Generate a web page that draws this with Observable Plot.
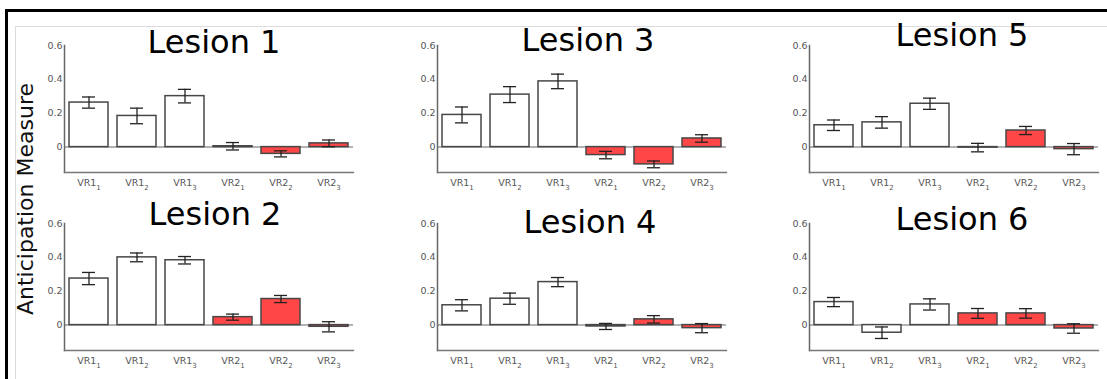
<!DOCTYPE html>
<html><head><meta charset="utf-8">
<script src="https://cdn.jsdelivr.net/npm/d3@7"></script>
<script src="https://cdn.jsdelivr.net/npm/@observablehq/plot@0.6"></script>
<style>
html,body{margin:0;padding:0;background:#fff;}
#root{position:relative;width:1107px;height:379px;overflow:hidden;font-family:"DejaVu Sans",sans-serif;}
#root > svg{position:absolute;}
</style></head><body><div id="root"></div>
<script>
// ---- data ----
const lesionTitles = ["Lesion 1", "Lesion 3", "Lesion 5", "Lesion 2", "Lesion 4", "Lesion 6"];
const conditions = ["VR1_1", "VR1_2", "VR1_3", "VR2_1", "VR2_2", "VR2_3"];
const groups = ["VR1", "VR1", "VR1", "VR2", "VR2", "VR2"];
const yTicks = [0, 0.2, 0.4, 0.6];
const yLabel = "Anticipation Measure";

const lesion1Mean = [0.263, 0.184, 0.301, 0.005, -0.040, 0.022];
const lesion1Err  = [0.033, 0.046, 0.040, 0.022, 0.018, 0.020];
const lesion3Mean = [0.190, 0.310, 0.388, -0.047, -0.102, 0.051];
const lesion3Err  = [0.047, 0.047, 0.043, 0.022, 0.020, 0.022];
const lesion5Mean = [0.129, 0.146, 0.256, -0.003, 0.098, -0.012];
const lesion5Err  = [0.031, 0.034, 0.033, 0.025, 0.024, 0.033];
const lesion2Mean = [0.275, 0.400, 0.383, 0.047, 0.154, -0.010];
const lesion2Err  = [0.036, 0.026, 0.022, 0.018, 0.021, 0.030];
const lesion4Mean = [0.117, 0.156, 0.254, -0.008, 0.034, -0.018];
const lesion4Err  = [0.033, 0.033, 0.027, 0.018, 0.022, 0.027];
const lesion6Mean = [0.136, -0.045, 0.122, 0.069, 0.069, -0.020];
const lesion6Err  = [0.027, 0.034, 0.033, 0.029, 0.028, 0.028];

const panelMeans = [lesion1Mean, lesion3Mean, lesion5Mean, lesion2Mean, lesion4Mean, lesion6Mean];
const panelErrs  = [lesion1Err, lesion3Err, lesion5Err, lesion2Err, lesion4Err, lesion6Err];

// ---- layout (positions/styles) ----
const layout = {
  lefts: [0, 373, 745, 0, 373, 745],
  tops: [0, 0, 0, 178, 178, 178],
  titleDx: [5, 6, 8, 6, 8, 8],
  titleDy: [7, 5, 0, 1, 9, 6]
};

const root = document.getElementById("root");

// frame decorations and y label
const over = d3.select(root).append("svg")
  .attr("width", 1107).attr("height", 379)
  .style("left", "0px").style("top", "0px");
over.append("line").attr("x1", 15).attr("y1", 26.5).attr("x2", 1107).attr("y2", 26.5)
  .attr("stroke", "#dcdcdc").attr("stroke-width", 1);
over.append("line").attr("x1", 15.5).attr("y1", 26).attr("x2", 15.5).attr("y2", 379)
  .attr("stroke", "#dcdcdc").attr("stroke-width", 1);
over.append("line").attr("x1", 5).attr("y1", 10.5).attr("x2", 1107).attr("y2", 10.5)
  .attr("stroke", "#000").attr("stroke-width", 3);
over.append("line").attr("x1", 6.5).attr("y1", 9).attr("x2", 6.5).attr("y2", 379)
  .attr("stroke", "#000").attr("stroke-width", 3);
over.append("text").attr("transform", "translate(33,199) rotate(-90)")
  .attr("text-anchor", "middle").attr("font-family", "DejaVu Sans")
  .attr("font-size", 22).attr("fill", "#111").text(yLabel);

function subscriptify(svg) {
  svg.querySelectorAll('[aria-label="x-axis tick label"] text').forEach(t => {
    const s = t.textContent;
    const [main, sub] = s.split("_");
    t.textContent = main;
    const ts = document.createElementNS("http://www.w3.org/2000/svg", "tspan");
    ts.setAttribute("dy", "4");
    ts.setAttribute("font-size", "7");
    ts.textContent = sub;
    t.appendChild(ts);
  });
}

lesionTitles.forEach((title, i) => {
  const rows = conditions.map((c, j) => ({c, g: groups[j], v: panelMeans[i][j], e: panelErrs[i][j]}));
  const svg = Plot.plot({
    width: 359, height: 197,
    marginLeft: 64, marginRight: 6, marginTop: 45, marginBottom: 25,
    style: {background: "transparent", overflow: "visible", fontFamily: "DejaVu Sans", fontSize: "9.5px"},
    x: {domain: conditions, paddingInner: 0.19, paddingOuter: 0.1, label: null},
    y: {domain: [-0.15, 0.6], label: null},
    color: {domain: ["VR1", "VR2"], range: ["#ffffff", "#ff4747"]},
    marks: [
      Plot.ruleY([0], {stroke: "#999", strokeWidth: 1.5}),
      Plot.barY(rows, {x: "c", y: "v", fill: "g", stroke: "#474747", strokeWidth: 1.5}),
      Plot.ruleX(rows, {x: "c", y1: d => d.v - d.e, y2: d => d.v + d.e, stroke: "#222", strokeWidth: 1.3}),
      Plot.tickY(rows, {x: "c", y: d => d.v + d.e, stroke: "#222", strokeWidth: 1.3, insetLeft: 13, insetRight: 13}),
      Plot.tickY(rows, {x: "c", y: d => d.v - d.e, stroke: "#222", strokeWidth: 1.3, insetLeft: 13, insetRight: 13}),
      Plot.frame({anchor: "left", stroke: "#666", strokeWidth: 1.5}),
      Plot.frame({anchor: "bottom", stroke: "#777", strokeWidth: 1.3}),
      Plot.axisY({ticks: yTicks, tickSize: 0, tickPadding: 2, tickFormat: d => String(d), fill: "#555", label: null}),
      Plot.axisX({tickSize: 0, tickPadding: 7, fill: "#555", label: null}),
      Plot.text([title], {text: d => d, frameAnchor: "top", lineAnchor: "bottom",
        dx: layout.titleDx[i], dy: layout.titleDy[i], fontSize: 32, fill: "#000"})
    ]
  });
  subscriptify(svg);
  svg.style.position = "absolute";
  svg.style.left = layout.lefts[i] + "px";
  svg.style.top = layout.tops[i] + "px";
  root.appendChild(svg);
});
</script></body></html>
